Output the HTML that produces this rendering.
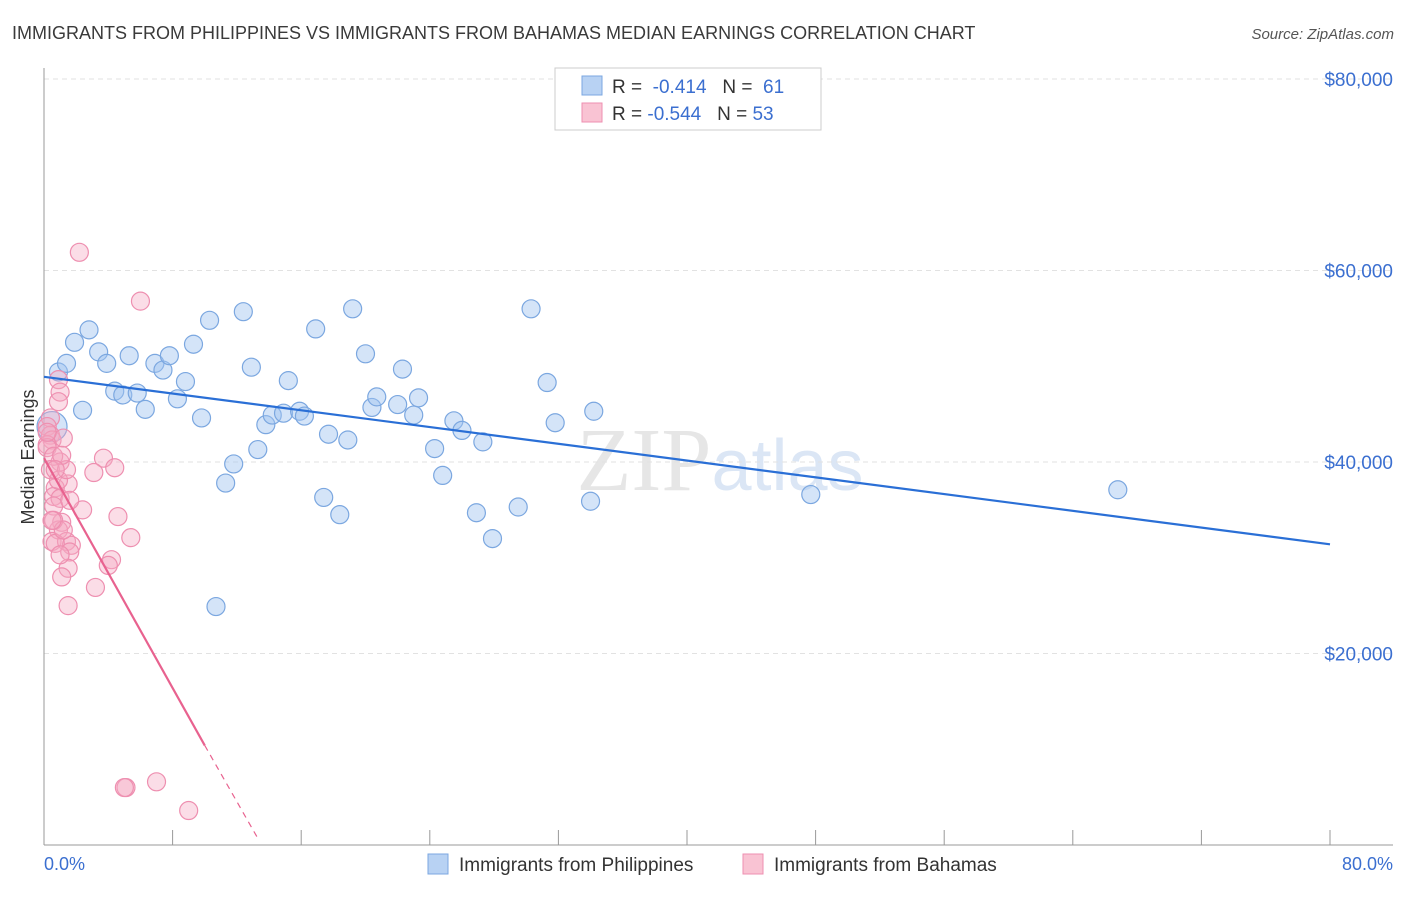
<!DOCTYPE html>
<html><head><meta charset="utf-8"><style>
body{margin:0;background:#fff;font-family:"Liberation Sans",sans-serif;}
svg text{font-family:"Liberation Sans",sans-serif;}
</style></head><body>
<svg id="chart" width="1406" height="892" xmlns="http://www.w3.org/2000/svg">
<text x="12" y="39" font-size="18" fill="#3a3a3a">IMMIGRANTS FROM PHILIPPINES VS IMMIGRANTS FROM BAHAMAS MEDIAN EARNINGS CORRELATION CHART</text>
<text x="1394" y="39" font-size="15" fill="#555" font-style="italic" text-anchor="end">Source: ZipAtlas.com</text>
<text x="720" y="490" font-size="90" text-anchor="middle" fill="#e6e6e6"><tspan font-family="Liberation Serif">ZIP</tspan><tspan fill="#dbe6f5" font-size="72">atlas</tspan></text>
<text transform="translate(34,457) rotate(-90)" font-size="18" fill="#333" text-anchor="middle">Median Earnings</text>
<g id="grid"></g><g id="marks"></g>
<g>
<rect x="555" y="68" width="266" height="62" fill="#fff" stroke="#ccc"/>
<rect x="582" y="76" width="20" height="19" fill="#b8d2f3" stroke="#7ba7e0"/>
<rect x="582" y="103" width="20" height="19" fill="#f9c3d3" stroke="#ee8fb0"/>
<text x="612" y="93" font-size="19" fill="#333">R = <tspan fill="#3b6fd0">&#160;-0.414</tspan>&#160;&#160;&#160;N = <tspan fill="#3b6fd0">&#160;61</tspan></text>
<text x="612" y="120" font-size="19" fill="#333">R = <tspan fill="#3b6fd0">-0.544</tspan>&#160;&#160;&#160;N = <tspan fill="#3b6fd0">53</tspan></text>
</g>
<g>
<rect x="428" y="854" width="20" height="20" fill="#b8d2f3" stroke="#7ba7e0"/>
<text x="459" y="871" font-size="19" fill="#333">Immigrants from Philippines</text>
<rect x="743" y="854" width="20" height="20" fill="#f9c3d3" stroke="#ee8fb0"/>
<text x="774" y="871" font-size="19" fill="#333">Immigrants from Bahamas</text>
</g>
<text x="44" y="870" font-size="18" fill="#3b6fd0">0.0%</text>
<text x="1393" y="870" font-size="18" fill="#3b6fd0" text-anchor="end">80.0%</text>
</svg>
<script>
const yTicks=[20000,40000,60000,80000];
const yTickLabels=["$20,000","$40,000","$60,000","$80,000"];
const blueX=[0.9,1.4,1.9,2.8,3.4,3.9,2.4,4.4,4.9,5.3,5.8,6.3,6.9,7.4,7.8,8.3,8.8,9.3,9.8,10.3,11.3,11.8,12.4,12.9,13.3,13.8,14.2,14.9,15.2,15.9,16.2,16.9,17.4,17.7,18.4,18.9,19.2,20.0,20.4,20.7,22.0,22.3,23.0,23.3,24.3,24.8,25.5,26.0,26.9,27.3,27.9,29.5,30.3,31.3,31.8,34.0,34.2,10.7,47.7,66.8,0.5];
const blueY=[49400,50300,52500,53800,51500,50300,45400,47400,47000,51100,47200,45500,50300,49600,51100,46600,48400,52300,44600,54800,37800,39800,55700,49900,41300,43900,44900,45100,48500,45300,44800,53900,36300,42900,34500,42300,56000,51300,45700,46800,46000,49700,44900,46700,41400,38600,44300,43300,34700,42100,32000,35300,56000,48300,44100,35900,45300,24900,36600,37100,43700];
const pinkX=[2.2,6.0,0.9,1.0,0.9,0.4,0.2,0.4,0.5,1.2,0.2,1.0,3.7,4.4,3.1,1.5,0.7,0.6,1.0,0.6,2.4,4.6,1.1,0.9,5.4,0.5,1.4,1.7,0.7,1.6,4.2,4.0,1.5,1.1,3.2,1.5,0.2,0.6,0.4,5.1,5.0,7.0,9.0,0.6,0.9,1.2,0.2,0.5,1.0,1.4,1.1,1.6,0.7];
const pinkY=[61900,56800,48600,47300,46300,44600,43700,42800,42300,42500,41800,40000,40400,39400,38900,37700,37300,36400,36200,35400,35000,34300,33700,32900,32100,31700,31700,31300,31500,30600,29800,29200,28900,28000,26900,25000,41500,40600,39200,6000,6000,6600,3600,33900,38100,32900,43100,33900,30300,39200,40700,36000,39200];
const blueTrend=[[0,48900],[80,31400]];
const pinkTrend=[[0,40400],[10,10400]];
const pinkDash=[[10,10400],[13.3,700]];
const NS="http://www.w3.org/2000/svg";
const X=v=>44+v*16.075, Y=v=>845-v/20000*191.5;
function mk(t,a,p){const e=document.createElementNS(NS,t);for(const k in a)e.setAttribute(k,a[k]);p.appendChild(e);return e;}
const grid=document.getElementById('grid'),marks=document.getElementById('marks');
yTicks.forEach((t,i)=>{
 const l=mk('line',{x1:44,x2:1393,y1:Y(t),y2:Y(t),stroke:'#e2e2e2','stroke-dasharray':'5,4'},grid);
 
 
 const tx=mk('text',{x:1393,y:Y(t)+7,'font-size':19,fill:'#3b6fd0','text-anchor':'end'},grid);
 tx.textContent=yTickLabels[i];
 
 
});
const ax=mk('line',{x1:44,x2:44,y1:68,y2:845,stroke:'#999'},grid);


const bx=mk('line',{x1:44,x2:1393,y1:845,y2:845,stroke:'#999'},grid);


for(let i=0;i<=10;i++){const t=mk('line',{x1:X(i*8),x2:X(i*8),y1:830,y2:845,stroke:'#999'},grid);
 
 }
function pts(xs,ys,fill,stroke,name){xs.forEach((x,i)=>{
 const big=(name==='blue-point'&&i===xs.length-1);
 const c=mk('circle',{cx:X(x),cy:Y(ys[i]),r:big?15:9,fill:fill,stroke:stroke,'stroke-width':1.2},marks);
 
 });}
pts(blueX,blueY,'rgba(160,196,240,0.45)','#7ba7e0','blue-point');
pts(pinkX,pinkY,'rgba(244,170,195,0.4)','#ee8fb0','pink-point');
function ln(p,color,name,dash){const l=mk('line',{x1:X(p[0][0]),y1:Y(p[0][1]),x2:X(p[1][0]),y2:Y(p[1][1]),stroke:color,'stroke-width':dash?1.2:2.2},marks);
 if(dash)l.setAttribute('stroke-dasharray','6,5');
 
 }
ln(blueTrend,'#2a6fd6','blue-trend-line');
ln(pinkTrend,'#e8628f','pink-trend-line');
ln(pinkDash,'#e8628f','pink-trend-extension',true);
</script>
</body></html>
